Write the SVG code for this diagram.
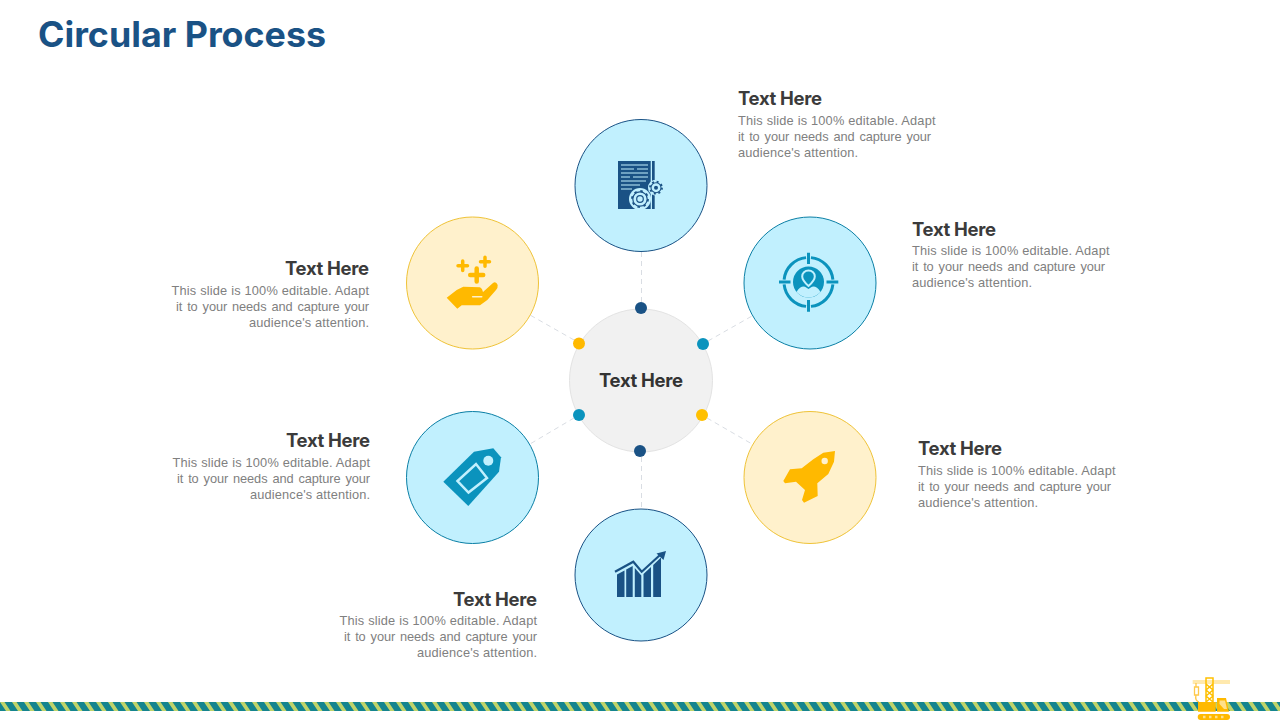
<svg xmlns="http://www.w3.org/2000/svg" width="1280" height="720" viewBox="0 0 1280 720">
<style>
.title{font:700 35px Inter,Lato,"Liberation Sans",sans-serif;fill:#1a5285}
.h{font:700 18.500px Inter,Lato,"Liberation Sans",sans-serif;fill:#3b3b3b}
.b{font:12.800px "Liberation Sans",Arial,sans-serif;fill:#808080}
.w{word-spacing:1.500px}
.e{text-anchor:end}
.blue{fill:#c1f0fe}
.yel{fill:#fff1cc;stroke:#efc338;stroke-width:1}
.conn line{stroke:#d9dde3;stroke-width:1;stroke-dasharray:5 4}
.navy{fill:#1a5285}.teal{fill:#0b93bd}.gold{fill:#ffb900}
</style>
<defs>
<pattern id="stripe" width="12" height="9" patternUnits="userSpaceOnUse" patternTransform="translate(0 702)">
<rect width="12" height="9" fill="#14848f"/>
<path d="M0 0H4.500L10.500 9H6ZM12 0H16.500L22.500 9H18ZM-12 0H-7.500L-1.500 9H-6Z" fill="#bfd36a"/>
</pattern>
</defs>
<rect width="1280" height="720" fill="#fff"/>
<text class="title" x="38" y="46.500" textLength="288" lengthAdjust="spacingAndGlyphs">Circular Process</text>

<g id="connectors" class="conn">
<line x1="641.500" y1="252" x2="641.500" y2="302"/>
<line x1="708" y1="341" x2="752" y2="316"/>
<line x1="707" y1="418" x2="752" y2="444"/>
<line x1="641.500" y1="457" x2="641.500" y2="508"/>
<line x1="574" y1="418" x2="530" y2="444"/>
<line x1="574" y1="340" x2="530" y2="315"/>
</g>

<g id="center">
<circle cx="641" cy="380.500" r="71.500" fill="#f1f1f1" stroke="#e3e3e3"/>
<text x="641" y="386.500" text-anchor="middle" textLength="84" class="h" style="fill:#333">Text Here</text>
<circle class="navy" cx="641" cy="308" r="6"/>
<circle class="teal" cx="703" cy="344" r="6"/>
<circle cx="702" cy="415" r="6" fill="#ffc000"/>
<circle class="navy" cx="640" cy="451" r="6"/>
<circle class="teal" cx="579" cy="415" r="6"/>
<circle cx="579" cy="343.500" r="6" fill="#ffb900"/>
</g>

<g id="node-top">
<circle class="blue" cx="641" cy="185.500" r="66" stroke="#1a5285"/>
<path class="navy" d="M618 161H650.700V209H618ZM652 161H654.700V209H652Z"/>
<path d="M621 165H648M621 169H634M637 169H648M621 173H648M621 177H630M633 177H648M621 181H646M621 185H640M621 189H632" stroke="#c1f0fe" stroke-width="1.200" fill="none"/>
<circle cx="640" cy="199" r="11" fill="#c1f0fe"/>
<circle cx="640" cy="199" r="7.200" fill="none" stroke="#1a5285" stroke-width="1.200"/>
<circle cx="640" cy="199" r="8" fill="none" stroke="#1a5285" stroke-width="1.800" stroke-dasharray="2.500 3.800"/>
<circle cx="640" cy="199" r="3.300" fill="none" stroke="#1a5285" stroke-width="1.200"/>
<circle cx="656" cy="187.700" r="8" fill="#c1f0fe"/>
<circle cx="656" cy="187.700" r="5" fill="none" stroke="#1a5285" stroke-width="1.100"/>
<circle cx="656" cy="187.700" r="6" fill="none" stroke="#1a5285" stroke-width="1.800" stroke-dasharray="2 2.700"/>
<circle cx="656" cy="187.700" r="2" class="navy"/>
<text class="h" x="738" y="105" textLength="84">Text Here</text>
<text class="b" x="738" y="125" textLength="197.500">This slide is 100% editable. Adapt</text>
<text class="b w" x="738" y="141" textLength="193">it to your needs and capture your</text>
<text class="b" x="738" y="157" textLength="120">audience's attention.</text>
</g>

<g id="node-top-right">
<circle class="blue" cx="810" cy="283" r="66" stroke="#0b7fa5"/>
<circle class="teal" cx="808.500" cy="282" r="15.500"/>
<path d="M796.500 292c2-4 5-5.500 7-5.500 2 0 3.500 1.500 5 2.500 1.500-1 3-2.500 5-2.500 2 0 5 1.500 7 5.500-3 3.500-7.500 5.500-12 5.500-4.500 0-9-2-12-5.500Z" fill="#c1f0fe"/>
<path d="M808.500 270.500c-3.700 0-6.300 2.700-6.300 6 0 3.500 3.500 7 6.300 9.500 2.800-2.500 6.300-6 6.300-9.500 0-3.300-2.600-6-6.300-6Z" class="teal" stroke="#c1f0fe" stroke-width="2"/>
<circle cx="808.500" cy="282" r="24.500" fill="none" stroke="#0b93bd" stroke-width="3" pathLength="360" stroke-dasharray="78 12" stroke-dashoffset="-6"/>
<path d="M808.500 252.700V264M808.500 300V311.700M779 282H790.500M826.500 282H838.300" stroke="#0b93bd" stroke-width="3"/>
<text class="h" x="912" y="236" textLength="84">Text Here</text>
<text class="b" x="912" y="255" textLength="197.500">This slide is 100% editable. Adapt</text>
<text class="b w" x="912" y="271" textLength="193">it to your needs and capture your</text>
<text class="b" x="912" y="287" textLength="120">audience's attention.</text>
</g>

<g id="node-bottom-right">
<circle class="yel" cx="810" cy="477.500" r="66"/>
<path class="gold" d="M835 451L823.300 452.700 813.300 459.300 801.700 468.300 790 469.300 783.300 481 785 483.300 796 481.700 805 490 802 500 804 502.700 817.700 496 817.300 483.300 828.300 474 834 461.700Z"/>
<circle cx="824.700" cy="461" r="3.200" fill="#fff1cc"/>
<text class="h" x="918" y="455" textLength="84">Text Here</text>
<text class="b" x="918" y="475" textLength="197.500">This slide is 100% editable. Adapt</text>
<text class="b w" x="918" y="491" textLength="193">it to your needs and capture your</text>
<text class="b" x="918" y="507" textLength="120">audience's attention.</text>
</g>

<g id="node-bottom">
<circle class="blue" cx="641" cy="575" r="66" stroke="#1a5285"/>
<path class="navy" d="M617 574.500L624.500 570.500V597H617ZM626.200 569.500L632.700 566V597H626.200ZM634.800 568L641.300 575.500V597H634.800ZM643.500 574L651 567V597H643.500ZM653.200 565L661 557.500V597H653.200Z"/>
<path d="M615 571.700L633.300 561.700 641.700 571.700 660 555" fill="none" stroke="#1a5285" stroke-width="2.200"/>
<path class="navy" d="M656.500 553.500L666 551 663.500 560Z"/>
<text class="h e" x="537" y="606" textLength="84">Text Here</text>
<text class="b" x="339.500" y="625" textLength="197.500">This slide is 100% editable. Adapt</text>
<text class="b w" x="344" y="641" textLength="193">it to your needs and capture your</text>
<text class="b" x="417" y="657" textLength="120">audience's attention.</text>
</g>

<g id="node-bottom-left">
<circle class="blue" cx="472.500" cy="477.500" r="66" stroke="#0b7fa5"/>
<path class="teal" d="M443.300 481.700L474 451.700 493.300 448.300 501 457.300 499 471.700 468.300 506Z"/>
<circle cx="488.300" cy="460.700" r="5" fill="#c1f0fe"/>
<path d="M457.500 481L476 464 487 478 468.500 492.500Z" fill="none" stroke="#c1f0fe" stroke-width="2.500"/>
<text class="h e" x="370" y="447" textLength="84">Text Here</text>
<text class="b" x="172.500" y="467" textLength="197.500">This slide is 100% editable. Adapt</text>
<text class="b w" x="177" y="483" textLength="193">it to your needs and capture your</text>
<text class="b" x="250" y="499" textLength="120">audience's attention.</text>
</g>

<g id="node-top-left">
<circle class="yel" cx="472.500" cy="283" r="66"/>
<path class="gold" d="M446.700 297.700L456.700 290 463.300 286.700 480 287.300Q483 289 483 292L493 283Q496 281 497.700 285 498 288 496 290L487.300 300 480 305.300H461.700L457.300 308.700Z"/>
<path d="M472.700 296.700H481.700" stroke="#fff1cc" stroke-width="1.600" stroke-linecap="round"/>
<path d="M462.700 261V270.500M458 265.700H467.500M485 257.200V266.200M480.500 261.700H489.500" stroke="#ffb900" stroke-width="3.500" stroke-linecap="round"/>
<path d="M476.700 268.500V281.500M470.200 275H483.200" stroke="#ffb900" stroke-width="4.500" stroke-linecap="round"/>
<text class="h e" x="369" y="275" textLength="84">Text Here</text>
<text class="b" x="171.500" y="295" textLength="197.500">This slide is 100% editable. Adapt</text>
<text class="b w" x="176" y="311" textLength="193">it to your needs and capture your</text>
<text class="b" x="249" y="327" textLength="120">audience's attention.</text>
</g>

<g id="footer">
<rect y="702" width="1280" height="9" fill="url(#stripe)"/>
<path d="M1192.700 681H1230M1192.700 683H1230" stroke="#ffd35c" stroke-width="1" fill="none"/>
<path d="M1206 702V678H1213V702M1206 684L1213 690 1206 696 1213 702M1213 684L1206 690 1213 696 1206 702" fill="none" stroke="#ffc000" stroke-width="1.500"/>
<path d="M1196 683V687M1194.500 687H1198.500V695H1194.500ZM1196 695C1195 699 1196 701 1199 702" fill="none" stroke="#ffc94a" stroke-width="1.300"/>
<path class="gold" d="M1198 702H1215.700V711.700H1198ZM1217 698H1226L1229 711.700H1217Z"/>
<path d="M1219.500 700.500H1225L1227 709H1224L1219.500 704Z" fill="#ffe08a"/>
<rect class="gold" x="1197.700" y="714" width="32.300" height="6" rx="3"/>
<path d="M1203 717H1225" stroke="#ffe08a" stroke-width="2.500" stroke-dasharray="2.500 3.500"/>
</g>
</svg>
